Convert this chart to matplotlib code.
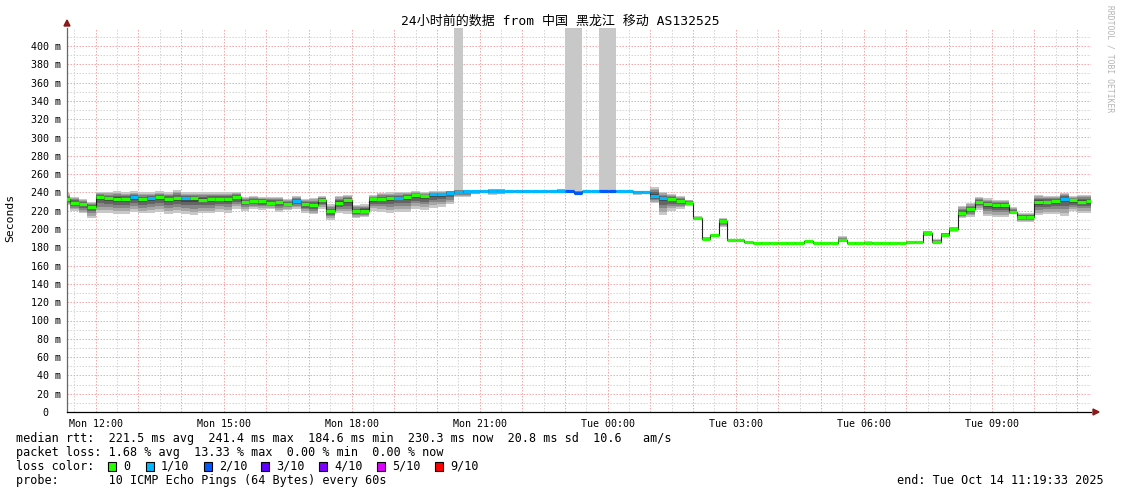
import matplotlib
matplotlib.use('agg')
import matplotlib.pyplot as plt
from matplotlib.patches import Rectangle
import numpy as np

W, H = 1121, 494
MONO = ['DejaVu Sans Mono', 'Noto Sans CJK SC']

# 12-minute steps, first one starts Mon 11:12 (hours since Mon 00:00)
first_step = 11.2
step_h = 0.2
t_start = 11 + 19 / 60 + 33 / 3600
t_end = t_start + 24

median = [232.5, 228.7, 227.0, 224.4, 235.3, 233.5, 232.8, 232.8, 234.6, 232.5,
          233.5, 235.3, 233.0, 233.5, 233.5, 233.5, 232.0, 233.0, 233.0, 233.0,
          235.3, 229.5, 230.8, 230.5, 228.7, 229.0, 227.7, 230.3, 227.0, 225.9,
          231.7, 219.3, 228.7, 231.7, 220.0, 220.0, 232.5, 233.1, 233.9, 234.2,
          235.3, 237.2, 235.7, 238.2, 238.0, 239.7, 240.8, 241.5, 241.5, 241.2,
          241.2, 241.2, 241.2, 241.2, 241.2, 241.2, 241.2, 241.2, 241.2, 241.0,
          239.7, 241.0, 241.2, 241.0, 241.0, 241.2, 241.0, 240.5, 240.5, 236.6,
          234.0, 233.0, 230.8, 228.5, 212.3, 189.6, 193.2, 209.2, 187.8, 187.8,
          185.6, 184.8, 184.8, 184.8, 184.8, 184.8, 184.8, 186.5, 184.8, 184.8,
          184.8, 188.0, 184.8, 184.8, 184.8, 184.8, 184.8, 184.8, 184.8, 185.9,
          185.9, 195.5, 186.2, 193.8, 200.0, 217.5, 222.2, 230.0, 227.2, 225.8,
          225.8, 218.6, 213.1, 213.1, 229.6, 229.6, 230.6, 233.1, 231.2, 230.0,
          230.3]

smoke_hi = [239, 235, 233, 230, 240, 240.5, 241, 240, 241, 240,
            240, 241, 240, 242.5, 240, 240, 240, 240, 240, 240,
            240, 235, 236, 235, 235, 235, 233, 236, 233, 234,
            236, 227, 236, 237, 226, 227, 237, 239, 240, 240,
            240, 241, 240, 241, 241, 242, 243, 242.5, 242, 242,
            244, 244, 242, 242, 242.5, 242, 242, 242, 244, 242,
            242, 242, 242, 242, 242, 242, 242, 242, 242, 246,
            240, 238, 236, 232, 214, 191, 194, 212, 188.5, 188.5,
            186.5, 185.5, 185.5, 185.5, 185.5, 185.5, 185.5, 187, 185.5, 185.5,
            185.5, 192, 185.5, 185.5, 186.5, 185.5, 185.5, 185.5, 185.5, 186.5,
            186.5, 198, 189, 196, 202.5, 225, 228, 235, 233.5, 232,
            232, 224, 217.5, 217.5, 237.5, 236.5, 236.5, 239.5, 236, 237.5,
            237.5]

smoke_lo = [226, 220, 217, 212, 217, 218, 216, 216, 219, 217,
            218, 219, 216, 218, 216, 215, 217, 217, 219, 218,
            222, 220, 222, 221, 222, 219, 221, 222, 218, 216,
            222, 210, 218, 216, 212, 213, 220, 219, 218, 219,
            219, 222, 221, 223, 224, 227, 235, 235, 238, 240,
            237.5, 238, 240, 240, 239, 240, 240, 240, 240, 240,
            239, 240, 240, 240, 240, 240, 239, 237.5, 239.5, 228,
            215, 220, 222, 225, 210, 188, 192, 202, 187, 187,
            185, 184.3, 184.3, 184.3, 184.3, 184.3, 184.3, 186, 184.3, 184.3,
            184.3, 187, 184.3, 184.3, 184.3, 184.3, 184.3, 184.3, 184.3, 185.5,
            185.5, 192, 185.5, 191, 197, 212, 213, 221, 214, 213,
            213, 216, 208, 208, 215, 216, 216, 214, 219.5, 217.5,
            217.5]

# steps whose slowest ping went off the top of the chart
spike_steps = [46, 59, 60, 63, 64]

loss = [0] * 121
for i in [8, 10, 14, 27, 39] + list(range(43, 59)) + [61, 62, 65, 66, 67, 68, 69, 70, 117]:
    loss[i] = 1
for i in [59, 60, 63, 64]:
    loss[i] = 2

loss_colors = {0: '#26ff00', 1: '#00b8ff', 2: '#0059ff', 3: '#5e00ff',
               4: '#7e00ff', 5: '#dd00ff', 9: '#ff0000'}
loss_labels = ['0', '1/10', '2/10', '3/10', '4/10', '5/10', '9/10']
loss_keys = [0, 1, 2, 3, 4, 5, 9]

x_labels = ['Mon 12:00', 'Mon 15:00', 'Mon 18:00', 'Mon 21:00',
            'Tue 00:00', 'Tue 03:00', 'Tue 06:00', 'Tue 09:00']

fig = plt.figure(figsize=(W / 100, H / 100), dpi=100)
ax = fig.add_axes([67 / W, 82 / H, 1024 / W, 384.3 / H])

med = np.array(median)
hi = np.array(smoke_hi, dtype=float)
lo = np.array(smoke_lo, dtype=float)
left = first_step + step_h * np.arange(len(med))

# off-chart spikes
for i in spike_steps:
    ax.bar(left[i], 500 - hi[i], width=step_h, bottom=hi[i], align='edge',
           color='#c8c8c8', linewidth=0, zorder=1)

# smoke, light outer pairs to dark inner pairs
shades = ['#c8c8c8', '#a6a6a6', '#858585', '#646464', '#444444']
fracs = [1.0, 0.8, 0.6, 0.4, 0.2]
for c, f in zip(shades, fracs):
    top = med + f * (hi - med)
    bot = med - f * (med - lo)
    ax.bar(left, top - bot, width=step_h, bottom=bot, align='edge',
           color=c, linewidth=0, zorder=2)

edges = np.append(left, left[-1] + step_h)
ax.stairs(med, edges, baseline=None, color='#202020', linewidth=0.8, zorder=3)
ax.hlines(med, left, left + step_h, colors=[loss_colors[l] for l in loss],
          linewidth=2.3, zorder=4, capstyle='butt')

ax.set_xlim(t_start, t_end)
ax.set_ylim(0, 420)

ax.set_xticks(np.arange(12, 36, 1))
ax.set_xticks(np.arange(11.5, 35.5, 1), minor=True)
ax.set_xticklabels([x_labels[(h - 12) // 3] if (h - 12) % 3 == 0 else ''
                    for h in range(12, 36)])
ax.set_yticks(np.arange(0, 401, 20))
ax.set_yticks(np.arange(10, 411, 20), minor=True)
ax.set_yticklabels(['0  '] + ['%d m' % v for v in range(20, 401, 20)])

for lab in ax.get_xticklabels() + ax.get_yticklabels():
    lab.set_family(MONO)
    lab.set_fontsize(7.2)
ax.tick_params(which='both', length=0, pad=4)
ax.tick_params(axis='x', pad=5)

ax.grid(which='major', color='#f4aaaa', linestyle=(0, (1.5, 1.5)), linewidth=0.72, zorder=0)
ax.grid(which='minor', color='#d6d6d6', linestyle=(0, (1.5, 1.5)), linewidth=0.72, zorder=0)
ax.set_axisbelow(True)

for s in ['top', 'right']:
    ax.spines[s].set_visible(False)
ax.spines['left'].set_color('#666666')
ax.spines['bottom'].set_color('#000000')
ax.spines['left'].set_linewidth(0.9)
ax.spines['bottom'].set_linewidth(0.9)

# axis arrows
fig.patches.append(plt.Polygon([[64 / W, 1 - 26 / H], [70 / W, 1 - 26 / H], [67 / W, 1 - 20 / H]],
                               closed=True, color='#8b1a1a', transform=fig.transFigure))
fig.patches.append(plt.Polygon([[1093 / W, 1 - 409 / H], [1093 / W, 1 - 415 / H], [1099 / W, 1 - 412 / H]],
                               closed=True, color='#8b1a1a', transform=fig.transFigure))

fig.text(0.5, 1 - 21 / H, '24小时前的数据 from 中国 黑龙江 移动 AS132525',
         ha='center', va='center', fontsize=9.4, family=MONO)
fig.text(10 / W, 1 - 218 / H, 'Seconds', rotation=90, ha='center', va='center',
         fontsize=8.2, family=MONO)
fig.text(1110 / W, 1 - 5 / H, 'RRDTOOL / TOBI OETIKER', rotation=270, ha='center',
         va='top', fontsize=5.8, family=MONO, color='#b4b4b4')

rows = [438, 452, 466, 480]
fig.text(16 / W, 1 - rows[0] / H,
         'median rtt:  221.5 ms avg  241.4 ms max  184.6 ms min  230.3 ms now  20.8 ms sd  10.6   am/s',
         ha='left', va='center', fontsize=8.5, family=MONO)
fig.text(16 / W, 1 - rows[1] / H,
         'packet loss: 1.68 % avg  13.33 % max  0.00 % min  0.00 % now',
         ha='left', va='center', fontsize=8.5, family=MONO)
fig.text(16 / W, 1 - rows[2] / H, 'loss color:', ha='left', va='center',
         fontsize=8.5, family=MONO)
box_x = [108, 146, 204, 261, 319, 377, 435]
for bx, k, lab in zip(box_x, loss_keys, loss_labels):
    fig.patches.append(Rectangle((bx / W, 1 - (rows[2] + 4.5) / H), 8 / W, 9 / H,
                                 facecolor=loss_colors[k], edgecolor='black',
                                 linewidth=0.8, transform=fig.transFigure))
    fig.text((bx + 15) / W, 1 - rows[2] / H, lab, ha='left', va='center',
             fontsize=8.5, family=MONO)
fig.text(16 / W, 1 - rows[3] / H,
         'probe:       10 ICMP Echo Pings (64 Bytes) every 60s',
         ha='left', va='center', fontsize=8.5, family=MONO)
fig.text(1104 / W, 1 - rows[3] / H, 'end: Tue Oct 14 11:19:33 2025',
         ha='right', va='center', fontsize=8.5, family=MONO)

fig.savefig('out.png', dpi=100)
